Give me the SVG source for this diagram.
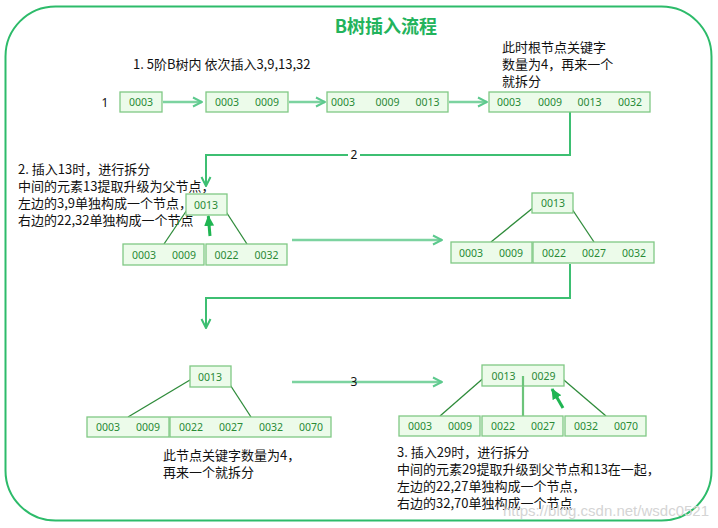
<svg xmlns="http://www.w3.org/2000/svg" width="718" height="528" viewBox="0 0 718 528">
<defs>
<style>
.frame{fill:#fff;stroke:#2dbb6a;stroke-width:2}
.title{font-family:"Noto Sans CJK SC","Noto Sans",sans-serif;font-size:18px;font-weight:bold;fill:#22b35c}
.box{fill:#ecfbea;stroke:#80c884;stroke-width:1.3}
.k{font-family:"Noto Sans","Liberation Sans",sans-serif;font-size:10.5px;fill:#2a8a36;text-anchor:middle}
.t{font-family:"Noto Sans CJK SC","Noto Sans",sans-serif;font-size:13px;fill:#111}
.lab{font-family:"Noto Sans","Liberation Sans",sans-serif;font-size:12px;fill:#111;text-anchor:middle}
.arr{fill:none;stroke:#7cd3a0;stroke-width:2.5;marker-end:url(#v)}
.elb{fill:none;stroke:#3dbf72;stroke-width:2;marker-end:url(#v2)}
.tree{stroke:#2e8b3a;stroke-width:1.3;fill:none}
.mid{stroke:#6cc47a;stroke-width:2.2}
.up{stroke:#1fb552;stroke-width:3;fill:none;marker-end:url(#th)}
.wm{font-family:"Liberation Sans",sans-serif;font-size:15px;fill:#d4d4d4}
</style>
<marker id="v" markerUnits="userSpaceOnUse" viewBox="0 0 12 12" markerWidth="12" markerHeight="12" refX="11" refY="6" orient="auto"><path d="M2,1.5 L11,6 L2,10.5" fill="none" stroke="#5cc98d" stroke-width="2"/></marker>
<marker id="v2" markerUnits="userSpaceOnUse" viewBox="0 0 12 12" markerWidth="12" markerHeight="12" refX="11" refY="6" orient="auto"><path d="M2,1.5 L11,6 L2,10.5" fill="none" stroke="#3dbf72" stroke-width="2"/></marker>
<marker id="th" markerUnits="userSpaceOnUse" viewBox="0 0 12 12" markerWidth="12" markerHeight="12" refX="10" refY="6" orient="auto"><path d="M0,1 L11,6 L0,11 z" fill="#1fb552"/></marker>
</defs>
<rect class="frame" x="5.5" y="6.5" width="706" height="514" rx="50" ry="50"/>
<text class="title" x="386" y="33" text-anchor="middle">B树插入流程</text>
<text class="t" x="133" y="69">1. 5阶B树内 依次插入3,9,13,32</text>
<text class="t" x="502" y="52">此时根节点关键字</text>
<text class="t" x="502" y="69">数量为4，再来一个</text>
<text class="t" x="502" y="86">就拆分</text>
<text class="lab" x="105" y="107">1</text>
<g class="t">
<text x="18" y="174">2. 插入13时，进行拆分</text>
<text x="18" y="191">中间的元素13提取升级为父节点，</text>
<text x="18" y="208">左边的3,9单独构成一个节点，</text>
<text x="18" y="225">右边的22,32单独构成一个节点</text>
<text x="163" y="460">此节点关键字数量为4，</text>
<text x="163" y="477">再来一个就拆分</text>
<text x="397" y="457">3. 插入29时，进行拆分</text>
<text x="397" y="474">中间的元素29提取升级到父节点和13在一起，</text>
<text x="397" y="491">左边的22,27单独构成一个节点，</text>
<text x="397" y="508">右边的32,70单独构成一个节点</text>
</g>
<g id="connectors">
<line class="arr" x1="163" y1="102" x2="202" y2="102"/>
<line class="arr" x1="289" y1="102" x2="325" y2="102"/>
<line class="arr" x1="449" y1="102" x2="487" y2="102"/>
<path class="elb" d="M570,112 V155 H206 V186"/>
<path class="elb" d="M570,264 V298 H206 V328"/>
<line class="arr" x1="292" y1="240" x2="442" y2="240"/>
<line class="arr" x1="292" y1="382" x2="442" y2="382"/>
<line class="tree" x1="191" y1="204" x2="164" y2="244"/>
<line class="tree" x1="221" y1="204" x2="247" y2="244"/>
<line class="tree" x1="539" y1="203" x2="491" y2="242"/>
<line class="tree" x1="568" y1="203" x2="594" y2="242"/>
<line class="tree" x1="195" y1="377" x2="128" y2="417"/>
<line class="tree" x1="225" y1="377" x2="251" y2="417"/>
<line class="tree" x1="487" y1="375" x2="440" y2="416"/>
<line class="tree" x1="558" y1="375" x2="606" y2="416"/>
<line class="mid" x1="523" y1="376" x2="523" y2="416"/>
<line class="up" x1="210" y1="236" x2="208.3" y2="216"/>
<line class="up" x1="563" y1="408" x2="552" y2="389"/>
</g>
<rect x="348" y="148" width="12" height="14" fill="#fff"/>
<text class="lab" x="354" y="159">2</text>
<text class="lab" x="354" y="386">3</text>
<g id="n1"><rect class="box" x="120" y="92" width="42" height="20"/><text class="k" x="141" y="106">0003</text></g>
<g id="n2"><rect class="box" x="206" y="92" width="82" height="20"/><text class="k" x="227" y="106">0003</text><text class="k" x="267" y="106">0009</text></g>
<g id="n3"><rect class="box" x="327" y="92" width="121" height="20"/><text class="k" x="343" y="106">0003</text><text class="k" x="387.5" y="106">0009</text><text class="k" x="427.5" y="106">0013</text></g>
<g id="n4"><rect class="box" x="489" y="92" width="161" height="20"/><text class="k" x="509" y="106">0003</text><text class="k" x="550" y="106">0009</text><text class="k" x="589.5" y="106">0013</text><text class="k" x="630" y="106">0032</text></g>
<g id="r2a"><rect class="box" x="186" y="194" width="41" height="21"/><text class="k" x="206" y="208.5">0013</text></g>
<g id="r2b"><rect class="box" x="123" y="244" width="81" height="21"/><text class="k" x="144" y="258.5">0003</text><text class="k" x="184" y="258.5">0009</text></g>
<g id="r2c"><rect class="box" x="206" y="244" width="81" height="21"/><text class="k" x="226.5" y="258.5">0022</text><text class="k" x="266.5" y="258.5">0032</text></g>
<g id="s2a"><rect class="box" x="532" y="193" width="41" height="20"/><text class="k" x="553" y="207">0013</text></g>
<g id="s2b"><rect class="box" x="451" y="242" width="81" height="21"/><text class="k" x="471" y="256.5">0003</text><text class="k" x="511" y="256.5">0009</text></g>
<g id="s2c"><rect class="box" x="533" y="242" width="121" height="21"/><text class="k" x="554" y="256.5">0022</text><text class="k" x="594" y="256.5">0027</text><text class="k" x="634" y="256.5">0032</text></g>
<g id="r3a"><rect class="box" x="190" y="366" width="41" height="21"/><text class="k" x="210" y="380.5">0013</text></g>
<g id="r3b"><rect class="box" x="87" y="417" width="82" height="20"/><text class="k" x="108" y="431">0003</text><text class="k" x="148" y="431">0009</text></g>
<g id="r3c"><rect class="box" x="170" y="417" width="161" height="20"/><text class="k" x="191" y="431">0022</text><text class="k" x="231" y="431">0027</text><text class="k" x="271" y="431">0032</text><text class="k" x="311" y="431">0070</text></g>
<g id="s3a"><rect class="box" x="482" y="365" width="82" height="21"/><text class="k" x="503.5" y="379.5">0013</text><text class="k" x="543.5" y="379.5">0029</text><line class="mid" x1="523" y1="376" x2="523" y2="386"/></g>
<g id="s3b"><rect class="box" x="399" y="416" width="81" height="20"/><text class="k" x="420" y="430">0003</text><text class="k" x="460" y="430">0009</text></g>
<g id="s3c"><rect class="box" x="482" y="416" width="81" height="20"/><text class="k" x="503" y="430">0022</text><text class="k" x="543" y="430">0027</text></g>
<g id="s3d"><rect class="box" x="565" y="416" width="81" height="20"/><text class="k" x="586" y="430">0032</text><text class="k" x="626" y="430">0070</text></g>
<text class="wm" x="709" y="516" text-anchor="end">https://blog.csdn.net/wsdc0521</text>
</svg>
